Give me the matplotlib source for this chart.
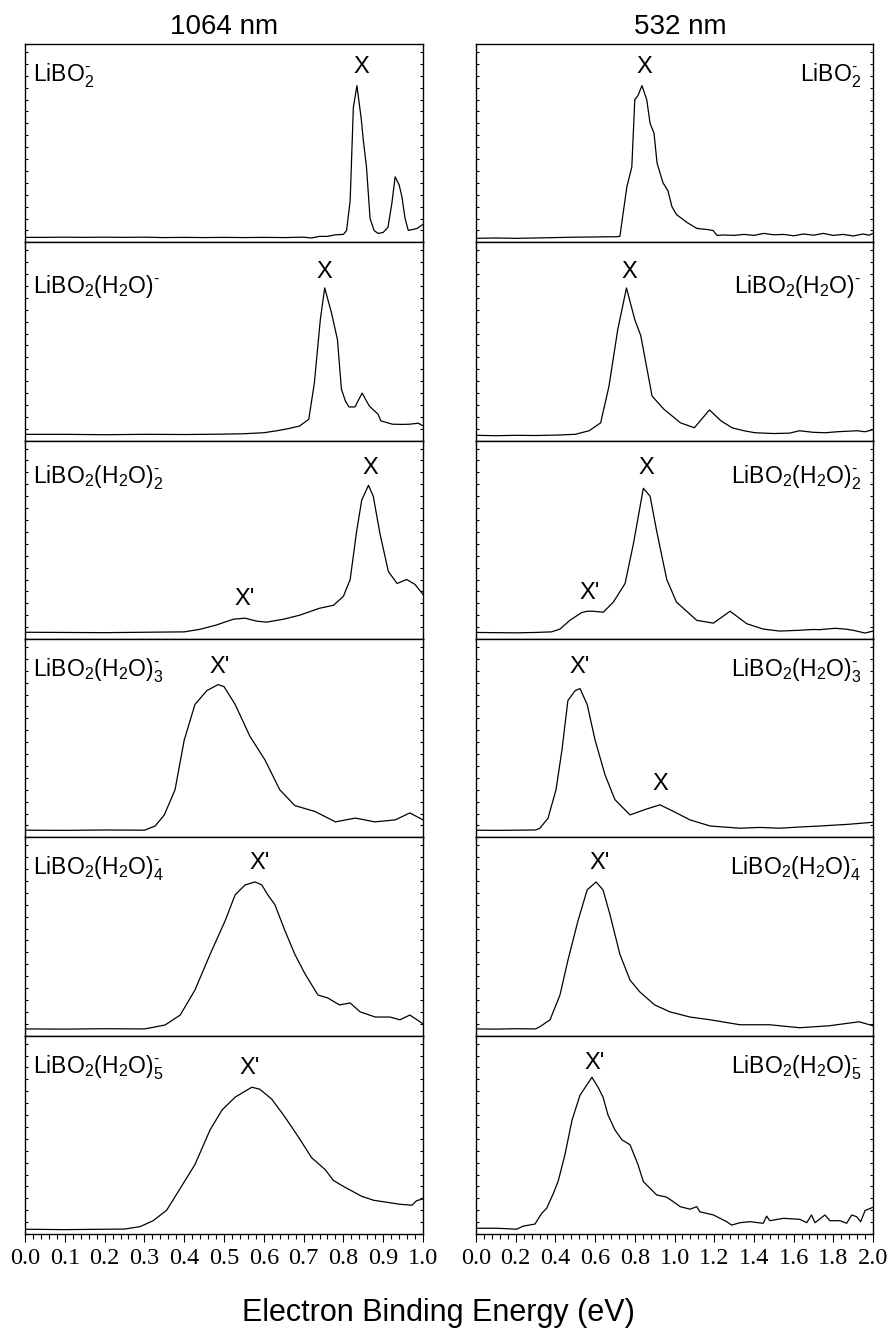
import matplotlib
matplotlib.use("Agg")
import matplotlib.pyplot as plt
from matplotlib.ticker import MultipleLocator

plt.rcParams['font.family'] = ['Liberation Sans', 'DejaVu Sans']
plt.rcParams['mathtext.fontset'] = 'custom'
plt.rcParams['mathtext.rm'] = 'Liberation Sans'
plt.rcParams['mathtext.it'] = 'Liberation Sans:italic'

# ---- 1064 nm spectra (x in eV, y in arb. units, 0..1 of panel) ----
x_l1 = [0, .05, .1, .15, .2, .25, .3, .35, .4, .45, .5, .55, .6, .65, .7, .72, .74, .76, .78, .8,
        .808, .817, .825, .834, .845, .85, .858, .867, .877, .887, .9, .912, .922, .93, .94, .947,
        .955, .963, .975, .985, 1.0]
y_l1 = [.025, .025, .026, .025, .026, .025, .026, .024, .025, .024, .025, .024, .025, .024, .026,
        .022, .03, .03, .038, .04, .06, .21, .68, .79, .62, .515, .38, .12, .06, .045, .05, .076,
        .2, .33, .29, .23, .12, .06, .065, .07, .09]

x_l2 = [0, .1, .2, .3, .4, .5, .55, .6, .633, .66, .69, .713, .727, .742, .753, .77, .785, .795,
        .805, .814, .829, .847, .865, .887, .894, .923, .95, .966, .988, 1.0]
y_l2 = [.032, .032, .03, .032, .031, .033, .035, .04, .05, .06, .074, .108, .29, .61, .77, .645,
        .51, .26, .2, .17, .17, .24, .175, .133, .10, .083, .082, .083, .088, .075]

x_l3 = [0, .1, .2, .3, .4, .44, .48, .524, .553, .582, .607, .65, .69, .74, .775, .80, .817, .833,
        .846, .863, .875, .892, .913, .935, .959, .98, 1.0]
y_l3 = [.034, .033, .032, .034, .036, .049, .07, .10, .105, .09, .085, .10, .12, .155, .17, .215,
        .30, .54, .70, .775, .72, .53, .34, .28, .30, .275, .225]

x_l4 = [0, .1, .2, .3, .327, .35, .377, .40, .427, .457, .485, .50, .528, .565, .603, .64, .678,
        .729, .78, .83, .879, .93, .967, 1.0]
y_l4 = [.036, .035, .037, .036, .057, .113, .24, .49, .67, .74, .77, .76, .67, .51, .39, .24, .16,
        .13, .078, .097, .078, .088, .123, .088]

x_l5 = [0, .1, .2, .3, .327, .352, .39, .427, .465, .503, .528, .553, .578, .595, .61, .628, .653,
        .678, .704, .736, .761, .79, .817, .842, .88, .917, .942, .967, 1.0]
y_l5 = [.034, .033, .035, .034, .044, .054, .104, .23, .41, .58, .71, .76, .775, .76, .71, .66, .53,
        .41, .31, .205, .19, .155, .165, .12, .094, .094, .08, .104, .06]

x_l6 = [0, .1, .2, .25, .289, .322, .356, .39, .427, .465, .495, .528, .553, .57, .59, .62, .653,
        .69, .72, .754, .775, .80, .846, .876, .909, .942, .972, .984, 1.0]
y_l6 = [.024, .022, .024, .025, .037, .067, .12, .23, .35, .525, .625, .69, .72, .74, .73, .68, .59,
        .48, .385, .325, .27, .24, .19, .17, .16, .15, .145, .168, .177]

# ---- 532 nm spectra ----
x_r1 = [0, .1, .2, .3, .4, .5, .6, .65, .7, .725, .741, .76, .785, .80, .816, .836, .86, .877, .897,
        .912, .942, .967, .987, 1.01, 1.063, 1.113, 1.16, 1.194, 1.214, 1.25, 1.3, 1.35, 1.4, 1.45,
        1.5, 1.55, 1.6, 1.65, 1.7, 1.75, 1.8, 1.85, 1.9, 1.95, 1.98, 2.0]
y_r1 = [.02, .022, .02, .022, .024, .026, .027, .028, .028, .03, .145, .28, .38, .72, .74, .79, .72,
        .60, .55, .40, .30, .26, .18, .14, .10, .07, .065, .06, .035, .037, .035, .04, .035, .045,
        .038, .04, .033, .042, .036, .045, .035, .04, .032, .042, .036, .045]

x_r2 = [0, .1, .2, .3, .4, .5, .57, .628, .67, .714, .758, .80, .83, .887, .945, 1.03, 1.10, 1.176,
        1.234, 1.29, 1.35, 1.405, 1.45, 1.5, 1.58, 1.63, 1.7, 1.76, 1.82, 1.92, 1.96, 2.0]
y_r2 = [.027, .025, .027, .026, .028, .032, .05, .09, .275, .56, .77, .61, .53, .225, .16, .09, .065,
        .155, .10, .065, .05, .04, .038, .036, .038, .05, .042, .04, .045, .05, .045, .055]

x_r3 = [0, .1, .2, .3, .38, .423, .474, .532, .56, .591, .641, .692, .751, .793, .843, .877, .91,
        .961, 1.01, 1.112, 1.196, 1.28, 1.364, 1.447, 1.53, 1.63, 1.7, 1.73, 1.81, 1.86, 1.9,
        1.96, 2.0]
y_r3 = [.033, .032, .031, .033, .036, .05, .095, .133, .14, .14, .135, .186, .28, .48, .76, .72,
        .545, .30, .186, .094, .08, .14, .077, .05, .04, .044, .048, .047, .054, .05, .044, .03, .04]

x_r4 = [0, .1, .2, .3, .322, .363, .403, .433, .463, .50, .524, .56, .60, .65, .70, .776, .851,
        .927, 1.0, 1.078, 1.18, 1.33, 1.43, 1.53, 1.63, 1.73, 1.88, 2.0]
y_r4 = [.036, .035, .036, .037, .046, .097, .24, .44, .69, .74, .75, .67, .49, .315, .19, .113, .14,
        .164, .128, .088, .057, .046, .05, .046, .052, .057, .066, .076]

x_r5 = [0, .1, .2, .3, .32, .373, .423, .463, .514, .56, .605, .64, .675, .725, .776, .826, .90,
        .977, 1.078, 1.18, 1.33, 1.48, 1.63, 1.78, 1.93, 2.0]
y_r5 = [.034, .033, .035, .034, .044, .08, .205, .38, .58, .735, .775, .735, .61, .41, .28, .22,
        .155, .12, .094, .08, .055, .055, .04, .05, .07, .05]

x_r6 = [0, .1, .15, .205, .238, .297, .331, .356, .39, .415, .448, .484, .524, .564, .584, .615,
        .64, .665, .70, .735, .776, .816, .843, .91, .96, .994, 1.028, 1.078, 1.112, 1.128, 1.196,
        1.263, 1.288, 1.33, 1.38, 1.447, 1.464, 1.48, 1.548, 1.632, 1.666, 1.69, 1.708, 1.758,
        1.783, 1.834, 1.867, 1.893, 1.918, 1.938, 1.96, 2.0]
y_r6 = [.029, .029, .027, .024, .04, .05, .104, .13, .205, .27, .40, .575, .70, .76, .79, .74, .69,
        .60, .525, .475, .45, .35, .264, .197, .186, .163, .138, .125, .138, .112, .096, .062, .045,
        .057, .062, .054, .09, .067, .079, .074, .057, .096, .057, .096, .067, .067, .054, .096,
        .087, .062, .118, .135]

species = [r'$\mathregular{LiBO_2^{\text{-}}}$',
           r'$\mathregular{LiBO_2(H_2O)^{\text{-}}}$',
           r'$\mathregular{LiBO_2(H_2O)_2^{\text{-}}}$',
           r'$\mathregular{LiBO_2(H_2O)_3^{\text{-}}}$',
           r'$\mathregular{LiBO_2(H_2O)_4^{\text{-}}}$',
           r'$\mathregular{LiBO_2(H_2O)_5^{\text{-}}}$']
species_y = [.84, .775, .815, .84, .84, .84]

# peak labels (text, x, y)
peaks_1064 = [[('X', .844, .885)],
              [('X', .752, .85)],
              [("X'", .553, .20), ('X', .868, .86)],
              [("X'", .49, .86)],
              [("X'", .59, .87)],
              [("X'", .565, .835)]]
peaks_532 = [[('X', .848, .885)],
             [('X', .772, .85)],
             [("X'", .571, .23), ('X', .86, .86)],
             [("X'", .52, .86), ('X', .93, .27)],
             [("X'", .625, .87)],
             [("X'", .60, .86)]]

xs_1064 = [x_l1, x_l2, x_l3, x_l4, x_l5, x_l6]
ys_1064 = [y_l1, y_l2, y_l3, y_l4, y_l5, y_l6]
xs_532 = [x_r1, x_r2, x_r3, x_r4, x_r5, x_r6]
ys_532 = [y_r1, y_r2, y_r3, y_r4, y_r5, y_r6]

W, H = 893, 1332
fig = plt.figure(figsize=(W / 100, H / 100), dpi=100)

top_px, bot_px = 44, 1234
ph = (bot_px - top_px) / 6.0
cols = [(25, 423, 1.0, 0.1, 0.02, xs_1064, ys_1064, peaks_1064, 'left'),
        (476, 873, 2.0, 0.2, 0.04, xs_532, ys_532, peaks_532, 'right')]

for (x0, x1, xmax, maj, mnr, xs, ys, pks, side) in cols:
    for i in range(6):
        y_top = top_px + i * ph
        ax = fig.add_axes([x0 / W, 1 - (y_top + ph) / H, (x1 - x0) / W, ph / H])
        ax.plot(xs[i], ys[i], color='black', lw=0.9)
        ax.set_xlim(0, xmax)
        ax.set_ylim(0, 1)
        ax.xaxis.set_major_locator(MultipleLocator(maj))
        ax.xaxis.set_minor_locator(MultipleLocator(mnr))
        ax.yaxis.set_major_locator(MultipleLocator(0.06))
        ax.yaxis.set_minor_locator(plt.NullLocator())
        ax.tick_params(axis='x', which='major', direction='out', length=6, width=0.8)
        ax.tick_params(axis='x', which='minor', direction='out', length=3.5, width=0.8)
        ax.tick_params(axis='y', which='major', direction='in', length=2.5, width=0.8,
                       left=True, right=True, labelleft=False)
        for s in ax.spines.values():
            s.set_linewidth(1.0)
        if i < 5:
            ax.tick_params(axis='x', labelbottom=False)
        else:
            ax.set_xticklabels([f'{v:.1f}' for v in ax.get_xticks()],
                               fontfamily='Liberation Serif', fontsize=17.5)
            ax.tick_params(axis='x', pad=4)
        if side == 'left':
            ax.text(0.02, species_y[i], species[i], transform=ax.transAxes,
                    fontsize=16.5, ha='left', va='center')
        else:
            ax.text(0.97, species_y[i], species[i], transform=ax.transAxes,
                    fontsize=16.5, ha='right', va='center')
        for (t, px, py) in pks[i]:
            ax.text(px, py, t, fontsize=17, ha='center', va='center')

fig.text(224 / W, 1 - 27 / H, '1064 nm', fontsize=20, ha='center', va='center')
fig.text(680 / W, 1 - 27 / H, '532 nm', fontsize=20, ha='center', va='center')
fig.text(438 / W, 1 - 1313 / H, 'Electron Binding Energy (eV)', fontsize=22,
         ha='center', va='center')

fig.savefig('out.png', dpi=100)
